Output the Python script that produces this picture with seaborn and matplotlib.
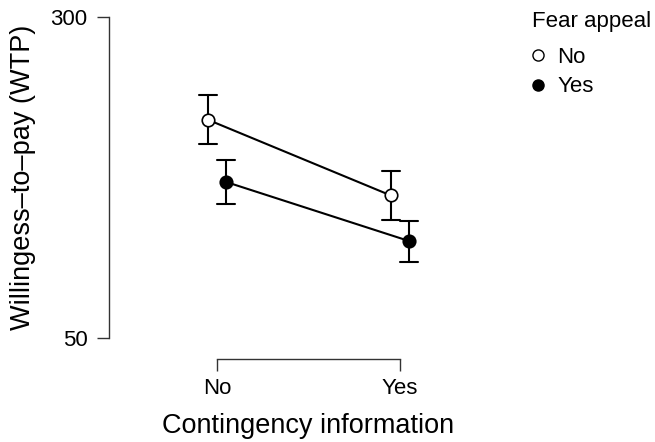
import seaborn as sns
import matplotlib.pyplot as plt
from matplotlib.lines import Line2D
import pandas as pd

# Values
contingency = ["No", "Yes"]
fear_levels = ["No", "Yes"]
wtp_no_fear = [220.0, 161.0]
err_no_fear = [19.0, 19.0]
wtp_fear = [171.5, 125.5]
err_fear = [17.0, 16.0]

# Long table: the lower and upper end of each interval, so mean = point, min/max = bars
rows = []
for fear, means, errs in [("No", wtp_no_fear, err_no_fear), ("Yes", wtp_fear, err_fear)]:
    for cont, m, e in zip(contingency, means, errs):
        rows.append({"Contingency": cont, "Fear appeal": fear, "WTP": m - e})
        rows.append({"Contingency": cont, "Fear appeal": fear, "WTP": m + e})
df = pd.DataFrame(rows)

sns.set_style("ticks")
plt.rcParams['font.family'] = ['Liberation Sans', 'DejaVu Sans']
plt.rcParams['text.color'] = 'black'
plt.rcParams['axes.labelcolor'] = 'black'

fig = plt.figure(figsize=(6.55, 4.42), dpi=100)
ax = fig.add_axes([109 / 655, 1 - 338 / 442, (508 - 109) / 655, (338 - 17) / 442])

sns.pointplot(data=df, x="Contingency", y="WTP", hue="Fear appeal",
              order=contingency, hue_order=fear_levels,
              palette=["black", "black"], markers=["o", "o"],
              dodge=0.1, errorbar=lambda v: (v.min(), v.max()),
              capsize=0.1, linewidth=1.5, markersize=9,
              err_kws={"linewidth": 1.5}, legend=False, ax=ax)

# open markers for the "No" fear appeal series
marker_lines = [l for l in ax.lines if l.get_marker() == "o"]
marker_lines[0].set_markerfacecolor("white")
for l in marker_lines:
    l.set_markeredgecolor("black")
    l.set_markeredgewidth(1.2)
    l.set_zorder(5)

ax.set_ylim(50, 300)
ax.set_yticks([50, 300])
ax.set_xlim(-0.59, 1.59)
ax.set_xlabel("Contingency information", fontsize=19.5, labelpad=10)
ax.set_ylabel("Willingess–to–pay (WTP)", fontsize=19.5, labelpad=10)
ax.tick_params(axis="both", labelsize=16, length=8.6, width=1, color="#333333",
               labelcolor="black")
ax.tick_params(axis="y", pad=7)
ax.tick_params(axis="x", pad=5)

for side in ["top", "right"]:
    ax.spines[side].set_visible(False)
ax.spines["left"].set_bounds(50, 300)
ax.spines["bottom"].set_bounds(0, 1)
ax.spines["bottom"].set_position(("outward", 15))
for side in ["left", "bottom"]:
    ax.spines[side].set_color("#333333")
    ax.spines[side].set_linewidth(1)

handles = [
    Line2D([], [], marker="o", linestyle="", markerfacecolor="white",
           markeredgecolor="black", markersize=8),
    Line2D([], [], marker="o", linestyle="", markerfacecolor="black",
           markeredgecolor="black", markersize=8),
]
leg = fig.legend(handles, fear_levels, title="Fear appeal", loc="upper left",
                 bbox_to_anchor=(532 / 655, 1 - 11 / 442), frameon=False, fontsize=16,
                 title_fontsize=16, alignment="left", handletextpad=0.6,
                 handlelength=0.55, labelspacing=0.4, borderpad=0, borderaxespad=0,
                 labelcolor="black")
leg.get_title().set_color("black")
leg._legend_box.sep = 10.5  # wider gap between title and entries

fig.savefig("out.png", dpi=100)
